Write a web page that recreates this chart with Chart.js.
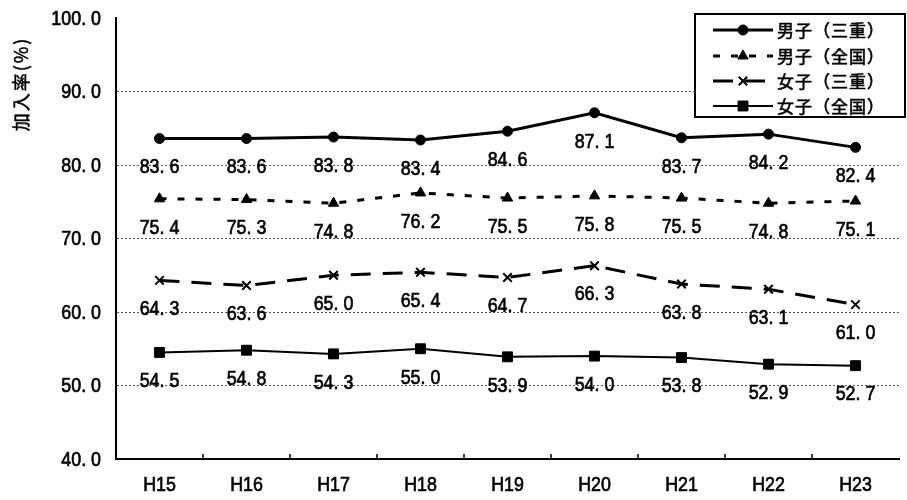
<!DOCTYPE html>
<html>
<head>
<meta charset="utf-8">
<script src="https://cdn.jsdelivr.net/npm/chart.js@4.4.1/dist/chart.umd.min.js"></script>
<style>
  html, body { margin: 0; padding: 0; background: #fff; }
  #wrap { width: 907px; height: 500px; }
</style>
</head>
<body>
<div id="wrap"><canvas id="c" width="907" height="500"></canvas></div>
<script>
const years = ['H15', 'H16', 'H17', 'H18', 'H19', 'H20', 'H21', 'H22', 'H23'];
const boysMie = [83.6, 83.6, 83.8, 83.4, 84.6, 87.1, 83.7, 84.2, 82.4];
const boysAll = [75.4, 75.3, 74.8, 76.2, 75.5, 75.8, 75.5, 74.8, 75.1];
const girlsMie = [64.3, 63.6, 65.0, 65.4, 64.7, 66.3, 63.8, 63.1, 61.0];
const girlsAll = [54.5, 54.8, 54.3, 55.0, 53.9, 54.0, 53.8, 52.9, 52.7];
const seriesNames = ['男子（三重）', '男子（全国）', '女子（三重）', '女子（全国）'];
const yTitle = '加入率(%)';

const fmt = v => v.toFixed(1).replace('.', '. ');

// narrow, tall number text like the printed original
function narrowText(ctx, text, x, y, align) {
    ctx.save();
    ctx.font = '21px "Liberation Sans", Arial, sans-serif';
    ctx.fillStyle = '#000';
    ctx.strokeStyle = '#000';
    ctx.lineWidth = 0.7;
    ctx.textBaseline = 'middle';
    ctx.textAlign = align;
    ctx.translate(x, y);
    ctx.scale(0.85, 1);
    ctx.fillText(text, 0, 0);
    ctx.strokeText(text, 0, 0);
    ctx.restore();
}

const line = (label, data, dash, width, pointStyle, radius) => ({
    label,
    data,
    borderColor: '#000',
    backgroundColor: '#000',
    borderWidth: width,
    borderDash: dash,
    pointStyle,
    pointRadius: radius,
    pointBorderWidth: pointStyle === 'crossRot' ? 2 : 1,
    pointBackgroundColor: '#000',
    pointBorderColor: '#000',
    tension: 0,
    fill: false
});

const datasets = [
    line(seriesNames[0], boysMie, [], 3, 'circle', 5),
    line(seriesNames[1], boysAll, [7, 11], 3, 'triangle', 6),
    line(seriesNames[2], girlsMie, [20, 12], 3, 'crossRot', 6),
    line(seriesNames[3], girlsAll, [], 2, 'rect', 7)
];

// labels under each point
const valueLabels = {
    id: 'valueLabels',
    afterDatasetsDraw(chart) {
        chart.data.datasets.forEach((ds, i) => {
            chart.getDatasetMeta(i).data.forEach((pt, j) => {
                narrowText(chart.ctx, fmt(ds.data[j]), pt.x, pt.y + 29, 'center');
            });
        });
    }
};

// axis labels, y title, x tick marks, legend box
const extras = {
    id: 'extras',
    afterDraw(chart) {
        const ctx = chart.ctx;
        const area = chart.chartArea;
        const xs = chart.scales.x;
        const ys = chart.scales.y;

        ys.ticks.forEach(t => {
            narrowText(ctx, fmt(t.value), 101, ys.getPixelForValue(t.value) + 1, 'right');
        });
        years.forEach((lab, i) => {
            narrowText(ctx, lab, xs.getPixelForValue(i), 485, 'center');
        });

        ctx.save();
        // small inward ticks at category boundaries
        ctx.strokeStyle = '#000';
        ctx.lineWidth = 1.5;
        for (let i = 1; i < years.length; i++) {
            const bx = (xs.getPixelForValue(i - 1) + xs.getPixelForValue(i)) / 2;
            ctx.beginPath();
            ctx.moveTo(bx, area.bottom);
            ctx.lineTo(bx, area.bottom - 5);
            ctx.stroke();
        }

        // y title
        ctx.translate(21, 84);
        ctx.rotate(-Math.PI / 2);
        ctx.fillStyle = '#000';
        ctx.strokeStyle = '#000';
        ctx.lineWidth = 0.5;
        ctx.font = '18px "Noto Sans CJK JP", sans-serif';
        ctx.letterSpacing = '2px';
        ctx.textAlign = 'center';
        ctx.textBaseline = 'middle';
        ctx.fillText(yTitle, 0, 0);
        ctx.strokeText(yTitle, 0, 0);
        ctx.restore();

        // legend
        ctx.save();
        const bx = 695, by = 14, bw = 210, bh = 103;
        ctx.fillStyle = '#fff';
        ctx.fillRect(bx, by, bw, bh);
        ctx.strokeStyle = '#000';
        ctx.lineWidth = 2;
        ctx.strokeRect(bx, by, bw, bh);
        const rows = [30, 56, 81, 106];
        chart.data.datasets.forEach((ds, i) => {
            const y = rows[i];
            ctx.save();
            ctx.strokeStyle = '#000';
            ctx.lineWidth = ds.borderWidth;
            ctx.setLineDash(ds.borderDash);
            ctx.beginPath();
            ctx.moveTo(713, y);
            ctx.lineTo(773, y);
            ctx.stroke();
            ctx.setLineDash([]);
            ctx.fillStyle = '#000';
            ctx.lineWidth = ds.pointBorderWidth;
            Chart.helpers.drawPoint(ctx, {
                pointStyle: ds.pointStyle,
                radius: ds.pointRadius,
                borderWidth: ds.pointBorderWidth,
                rotation: 0
            }, 743, y);
            ctx.restore();
            ctx.fillStyle = '#000';
            ctx.strokeStyle = '#000';
            ctx.lineWidth = 0.6;
            ctx.font = '17px "Noto Sans CJK JP", sans-serif';
            ctx.letterSpacing = '1px';
            ctx.textAlign = 'left';
            ctx.textBaseline = 'middle';
            ctx.fillText(ds.label, 777, y + 1);
            ctx.strokeText(ds.label, 777, y + 1);
        });
        ctx.restore();
    }
};

new Chart(document.getElementById('c').getContext('2d'), {
    type: 'line',
    data: { labels: years, datasets },
    options: {
        responsive: false,
        animation: false,
        layout: { padding: { top: 18, right: 2, left: 0, bottom: 0 } },
        plugins: {
            legend: { display: false },
            tooltip: { enabled: false }
        },
        scales: {
            x: {
                offset: true,
                afterFit: s => { s.height = 41; },
                grid: { display: false, drawTicks: false },
                border: { display: true, color: '#000', width: 2 },
                ticks: { display: false }
            },
            y: {
                min: 40,
                max: 100,
                afterFit: s => { s.width = 116; },
                grid: {
                    drawTicks: false,
                    lineWidth: 1,
                    color: c => (c.tick && (c.tick.value === 100 || c.tick.value === 40)) ? 'rgba(0,0,0,0)' : '#555'
                },
                border: { display: true, color: '#000', width: 2, dash: [2, 2] },
                ticks: { stepSize: 10, display: false }
            }
        }
    },
    plugins: [valueLabels, extras]
});
</script>
</body>
</html>
